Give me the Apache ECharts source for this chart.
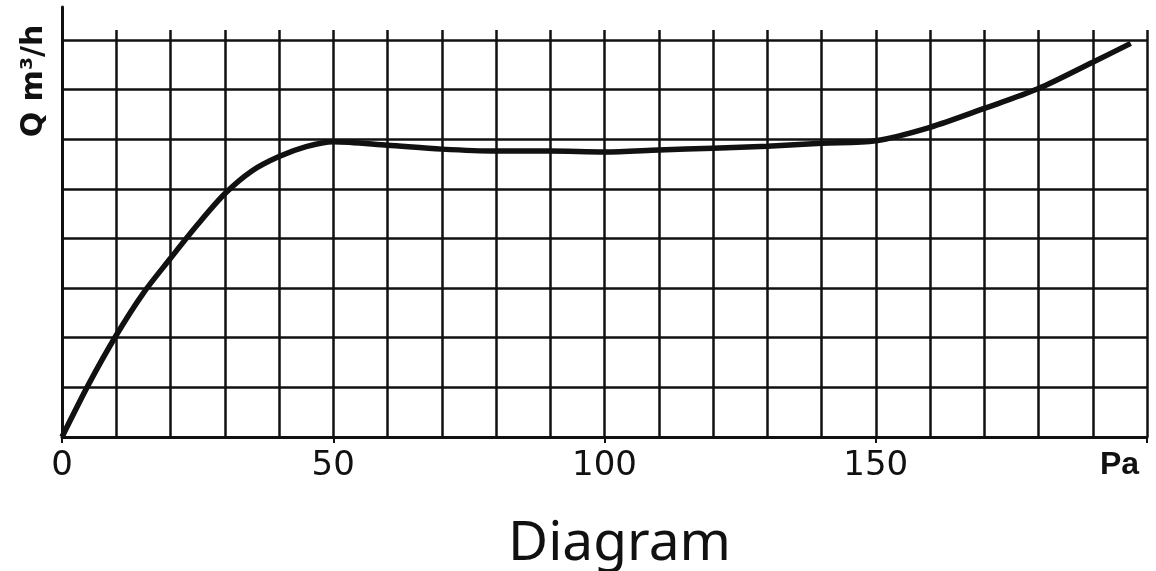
<!DOCTYPE html>
<html>
<head>
<meta charset="utf-8">
<title>Diagram</title>
<script src="https://cdn.jsdelivr.net/npm/echarts@6/dist/echarts.min.js"></script>
<style>
  html, body { margin: 0; padding: 0; background: #fff; }
  #chart { width: 1156px; height: 571px; }
</style>
</head>
<body>
<div id="chart"></div>
<script>
// pressure (Pa) and flow (Q, grid units)
const pressure = [0, 5, 10, 15, 20, 25, 30, 35, 40, 45, 50, 60, 70, 80, 90, 100, 110, 120, 130, 140, 150, 160, 170, 180, 190, 197]
const flow = [0, 1.08, 2.05, 2.9, 3.6, 4.28, 4.9, 5.36, 5.65, 5.85, 5.95, 5.88, 5.8, 5.76, 5.76, 5.74, 5.78, 5.82, 5.86, 5.92, 5.97, 6.24, 6.62, 7.02, 7.55, 7.93]
const xTicks = [0, 50, 100, 150]
const xUnit = 'Pa'
const yName = 'Q m³/h'

const ink = '#111'
const gridLine = { color: ink, width: 2.5 }

const chart = echarts.init(document.getElementById('chart'))

const option = {
  animation: false,
  backgroundColor: '#fff',
  title: {
    text: 'Diagram',
    left: 503,
    top: 512,
    textStyle: { fontFamily: 'Noto Sans', fontSize: 55, fontWeight: 'normal', color: ink }
  },
  graphic: [{
    type: 'text',
    x: 34,
    y: 81,
    rotation: Math.PI / 2,
    style: {
      text: yName,
      fontFamily: 'DejaVu Sans',
      fontWeight: 'bold',
      fontSize: 30,
      fill: ink,
      align: 'center',
      verticalAlign: 'middle'
    }
  }],
  grid: [
    { left: 62, right: 9, top: 30, bottom: 134 },
    { left: 62, right: 9, top: 7, bottom: 134 }
  ],
  xAxis: [{
    type: 'value',
    gridIndex: 0,
    min: 0,
    max: 200,
    interval: 50,
    axisLine: { show: true, onZero: false, lineStyle: { color: ink, width: 3 } },
    axisTick: { show: true, length: 6, lineStyle: { color: ink, width: 2 } },
    minorTick: { show: false, splitNumber: 5 },
    splitLine: { show: true, lineStyle: gridLine },
    minorSplitLine: { show: true, lineStyle: gridLine },
    axisLabel: {
      margin: 12,
      fontFamily: 'DejaVu Sans',
      fontSize: 34,
      color: ink,
      formatter: v => xTicks.includes(v) ? String(v) : (v === 200 ? '{u|' + xUnit + '}' : ''),
      rich: {
        u: {
          fontFamily: 'Liberation Sans',
          fontWeight: 'bold',
          fontSize: 32,
          color: ink,
          padding: [0, 55, 0, 0]
        }
      }
    }
  }, {
    type: 'value',
    gridIndex: 1,
    min: 0,
    max: 200,
    show: false
  }],
  yAxis: [{
    type: 'value',
    gridIndex: 0,
    min: 0,
    max: 8.2,
    interval: 1,
    axisLine: { show: false },
    axisTick: { show: false },
    axisLabel: { show: false },
    splitLine: { show: true, showMaxLine: false, lineStyle: gridLine }
  }, {
    type: 'value',
    gridIndex: 1,
    min: 0,
    max: 1,
    axisLine: { show: true, lineStyle: { color: ink, width: 3 } },
    axisTick: { show: false },
    axisLabel: { show: false },
    splitLine: { show: false }
  }],
  series: [{
    type: 'line',
    xAxisIndex: 0,
    yAxisIndex: 0,
    data: pressure.map((p, i) => [p, flow[i]]),
    smooth: 0.3,
    showSymbol: false,
    lineStyle: { color: ink, width: 5.5 },
    z: 5
  }]
}

chart.setOption(option)
</script>
</body>
</html>
